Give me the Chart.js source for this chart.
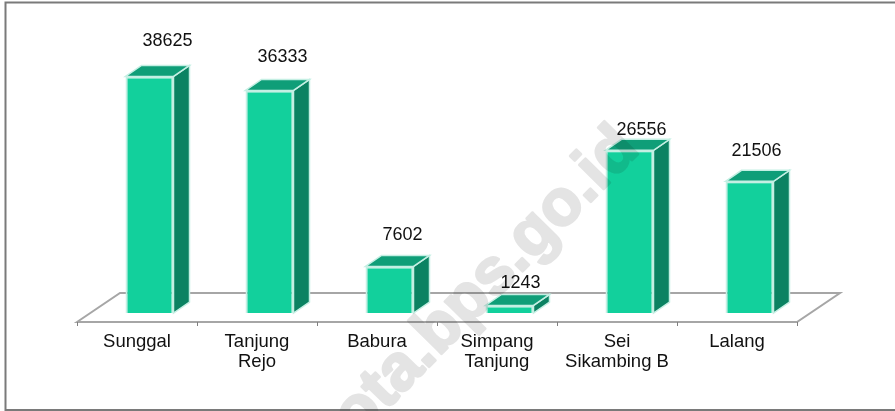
<!DOCTYPE html>
<html>
<head>
<meta charset="utf-8">
<style>
  html, body { margin: 0; padding: 0; background: #fff; }
  canvas { display: block; }
</style>
<script src="https://cdn.jsdelivr.net/npm/chart.js@4"></script>
</head>
<body>
<canvas id="chart" width="895" height="411"></canvas>
<script>
const categories = [
  "Sunggal",
  ["Tanjung", "Rejo"],
  "Babura",
  ["Simpang", "Tanjung"],
  ["Sei", "Sikambing B"],
  "Lalang",
];
const values = [38625, 36333, 7602, 1243, 26556, 21506];

// hand-placed value labels in the original, px from the front face top centre
const labelNudgeX = [18, 13, 13, 11, 12, 7];
const labelNudgeY = [35, 33, 31, 22, 20, 30];

const FRONT = "#12d09c";
const TOP = "#0f9e78";
const SIDE = "#0b8262";
const EDGE = "#c4efe3";
const FLOOR = "#a6a6a6";
const FONT = "'Liberation Sans', Arial, sans-serif";

const BAR_DX = 16;
const BAR_DY = -11;
const BAR_SHIFT = 12.5; // bars stand inside the floor, not on its front edge
const FLOOR_DX = 43;
const FLOOR_DY = -29;
const FLOOR_DROP = 9;

function poly(ctx, pts, fill, stroke) {
  ctx.beginPath();
  pts.forEach((p, i) => (i ? ctx.lineTo(p[0], p[1]) : ctx.moveTo(p[0], p[1])));
  ctx.closePath();
  if (fill) {
    ctx.fillStyle = fill;
    ctx.fill();
  }
  if (stroke) {
    ctx.strokeStyle = stroke;
    ctx.lineWidth = 1.5;
    ctx.stroke();
  }
}

const box3d = {
  id: "box3d",
  afterDatasetsUpdate(chart) {
    chart.getDatasetMeta(0).data.forEach((bar) => {
      bar.x += BAR_SHIFT;
    });
  },
  beforeDraw(chart) {
    const { ctx, width, height } = chart;
    ctx.save();
    ctx.fillStyle = "#fff";
    ctx.fillRect(0, 0, width, height);
    ctx.strokeStyle = "#7a7a7a";
    ctx.lineWidth = 2;
    ctx.beginPath();
    ctx.moveTo(width, 2.5);
    ctx.lineTo(5.5, 2.5);
    ctx.lineTo(5.5, 410);
    ctx.lineTo(width, 410);
    ctx.stroke();
    ctx.restore();
  },
  beforeDatasetsDraw(chart) {
    const { ctx, scales } = chart;
    const x0 = scales.x.left;
    const x1 = scales.x.right;
    const yf = scales.y.getPixelForValue(0) + FLOOR_DROP;

    ctx.save();
    ctx.strokeStyle = FLOOR;
    ctx.lineWidth = 2;
    ctx.beginPath();
    ctx.moveTo(x0, yf);
    ctx.lineTo(x0 + FLOOR_DX, yf + FLOOR_DY);
    ctx.lineTo(x1 + FLOOR_DX, yf + FLOOR_DY);
    ctx.lineTo(x1, yf);
    ctx.closePath();
    ctx.stroke();
    ctx.lineWidth = 1;
    ctx.strokeStyle = "#808080";
    for (let i = 0; i <= categories.length; i++) {
      const tx = Math.round(x0 + ((x1 - x0) * i) / categories.length) + 0.5;
      ctx.beginPath();
      ctx.moveTo(tx, yf);
      ctx.lineTo(tx, yf + 4);
      ctx.stroke();
    }

    chart.getDatasetMeta(0).data.forEach((bar) => {
      const r = bar.x + bar.width / 2;
      const l = bar.x - bar.width / 2;
      poly(ctx, [[r, bar.y], [r + BAR_DX, bar.y + BAR_DY], [r + BAR_DX, bar.base + BAR_DY], [r, bar.base]], SIDE, EDGE);
      poly(ctx, [[l, bar.y], [l + BAR_DX, bar.y + BAR_DY], [r + BAR_DX, bar.y + BAR_DY], [r, bar.y]], TOP, EDGE);
    });
    ctx.restore();
  },
  afterDraw(chart) {
    const { ctx, width, height } = chart;
    ctx.save();
    ctx.fillStyle = "#111";
    ctx.font = "18px " + FONT;
    ctx.textAlign = "center";
    ctx.textBaseline = "middle";
    chart.getDatasetMeta(0).data.forEach((bar, i) => {
      ctx.fillText(String(values[i]), bar.x + labelNudgeX[i], bar.y - labelNudgeY[i]);
    });

    // site watermark, runs off the bottom edge. Fill and stroke go on a
    // separate layer first so the overlap doesn't darken twice.
    const layer = document.createElement("canvas");
    layer.width = width;
    layer.height = height;
    const wm = layer.getContext("2d");
    wm.fillStyle = wm.strokeStyle = "#e4e4e4";
    wm.lineWidth = 2.5;
    wm.lineJoin = "round";
    wm.font = "bold 65px " + FONT;
    wm.textAlign = "right";
    wm.translate(641, 151);
    wm.rotate((-45.5 * Math.PI) / 180);
    wm.strokeText("medankota.bps.go.id", 0, 0);
    wm.fillText("medankota.bps.go.id", 0, 0);
    ctx.globalCompositeOperation = "multiply";
    ctx.drawImage(layer, 0, 0);
    ctx.restore();
  },
};

new Chart(document.getElementById("chart").getContext("2d"), {
  type: "bar",
  data: {
    labels: categories,
    datasets: [
      {
        data: values,
        backgroundColor: FRONT,
        borderColor: EDGE,
        borderWidth: 2,
        barPercentage: 0.4,
        categoryPercentage: 1,
      },
    ],
  },
  options: {
    responsive: false,
    animation: false,
    layout: { padding: { left: 77, right: 98, top: 68, bottom: 0 } },
    plugins: { legend: { display: false }, tooltip: { enabled: false } },
    scales: {
      x: {
        grid: { display: false },
        border: { display: false },
        afterFit(scale) {
          scale.height = 98;
        },
        ticks: {
          color: "#111",
          padding: 11,
          maxRotation: 0,
          autoSkip: false,
          font: { family: FONT, size: 18.5, lineHeight: 1.08 },
        },
      },
      y: { display: false, min: 0, max: 40000 },
    },
  },
  plugins: [box3d],
});
</script>
</body>
</html>
